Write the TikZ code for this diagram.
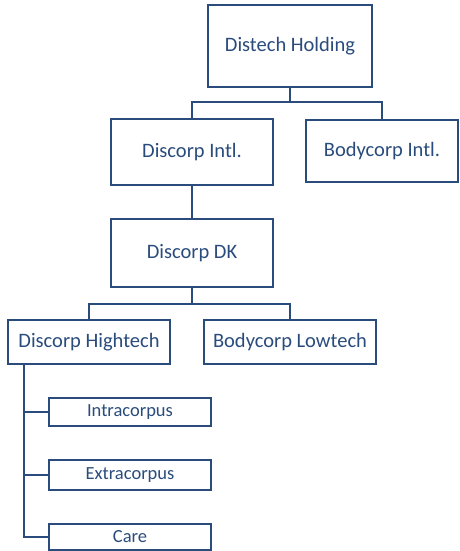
\documentclass[tikz,border=0pt]{standalone}
\usepackage{fontspec}
\setmainfont{Carlito}
\definecolor{orgblue}{RGB}{42,76,124}
\begin{document}
\begin{tikzpicture}[x=1pt, y=-1pt, line width=2pt, draw=orgblue, line join=miter,
    every node/.style={text=orgblue, inner sep=0pt, outer sep=0pt},
    unit/.style={draw=orgblue, fill=white, line width=2pt, font=\fontsize{20.5}{24}\selectfont},
    dept/.style={draw=orgblue, fill=white, line width=2pt, font=\fontsize{18.5}{22}\selectfont}]
    \useasboundingbox (0,0) rectangle (460,551);
    % top level
    \node[unit, minimum width=164pt, minimum height=82pt] (hold) at (290, 46) {Distech Holding};
    \node[unit, minimum width=162pt, minimum height=66pt] (dintl) at (192, 152) {Discorp Intl.};
    \node[unit, minimum width=152pt, minimum height=62pt] (bintl) at (382, 151) {Bodycorp Intl.};
    \draw[orgblue] (hold.south) -- ++(0, 15) -| (dintl.north);
    \draw[orgblue] (hold.south) -- ++(0, 15) -| (bintl.north);

    \node[unit, minimum width=162pt, minimum height=68pt] (dk) at (192, 253) {Discorp DK};
    \draw[orgblue] (dintl.south) -- (dk.north);

    \node[unit, minimum width=162pt, minimum height=44pt] (dht) at (89, 342) {Discorp Hightech};
    \node[unit, minimum width=172pt, minimum height=44pt] (blt) at (290, 342) {Bodycorp Lowtech};
    \draw[orgblue] (dk.south) -- ++(0, 17) -| (dht.north);
    \draw[orgblue] (dk.south) -- ++(0, 17) -| (blt.north);

    % departments
    \node[dept, minimum width=162pt, minimum height=28pt] (intra) at (130, 412) {Intracorpus};
    \node[dept, minimum width=162pt, minimum height=30pt] (extra) at (130, 475) {Extracorpus};
    \node[dept, minimum width=162pt, minimum height=26pt] (care) at (130, 537) {Care};
    \draw[orgblue] ([xshift=16pt]dht.south west) |- (intra.west);
    \draw[orgblue] ([xshift=16pt]dht.south west) |- (extra.west);
    \draw[orgblue] ([xshift=16pt]dht.south west) |- (care.west);
\end{tikzpicture}
\end{document}
